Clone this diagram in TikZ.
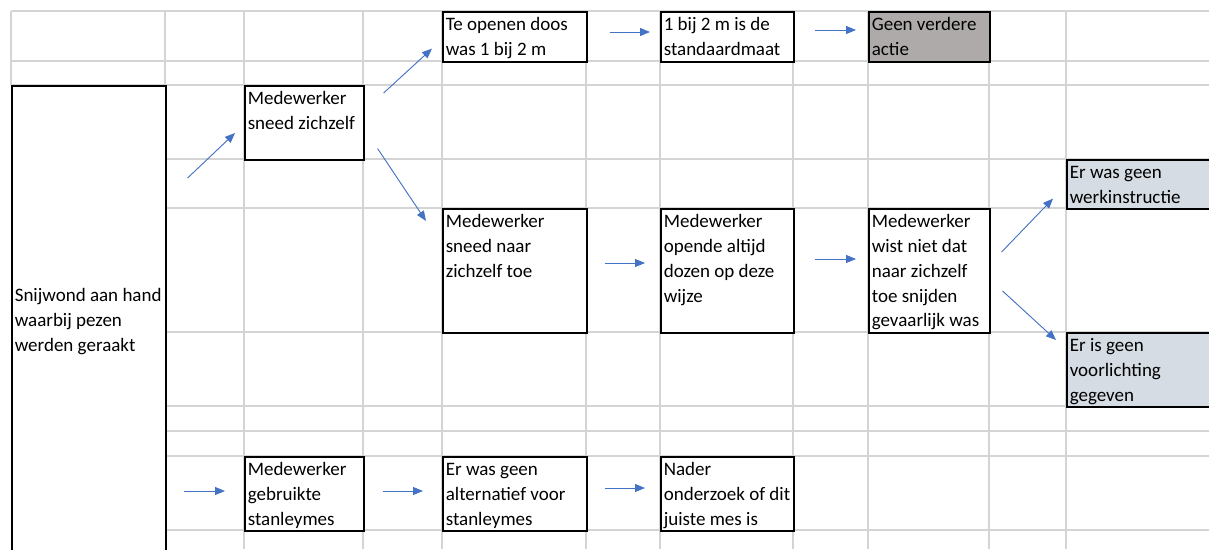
\documentclass[tikz,border=0pt]{standalone}
\usepackage{fontspec}
\setmainfont{Carlito}
\usepackage{xcolor}
\usepackage{tikz}
\usetikzlibrary{arrows.meta, positioning, calc}
\definecolor{gridcolor}{RGB}{212, 212, 212}
\definecolor{arrowcolor}{RGB}{68, 114, 196}
\definecolor{stopcolor}{RGB}{174, 170, 170}
\definecolor{causecolor}{RGB}{214, 220, 228}

\newcommand{\celltext}[4][t]{\parbox[t][#3pt][#1]{#2pt}{\raggedright\leftskip=3pt\relax\vspace*{1.6pt}\strut#4\strut}}

\begin{document}
\begin{tikzpicture}[
    x=1pt, y=-1pt,
    box/.style={draw, line width=1.6pt, fill=white, inner sep=0pt, anchor=north west, font=\fontsize{19}{24.8}\selectfont},
    gridline/.style={draw=gridcolor, line width=1.2pt},
    arrow/.style={-{Triangle[length=10pt, width=8pt]}, draw=arrowcolor, fill=arrowcolor, line width=0.9pt}
]
    \useasboundingbox (0,0) rectangle (1209,549);
    \clip (0,0) rectangle (1209,549);

    % spreadsheet grid
    \foreach \y in {11, 61, 85}
        \draw[gridline] (11,\y) -- (1209,\y);
    \foreach \y in {159, 208, 332, 406, 431, 456, 530}
        \draw[gridline] (165,\y) -- (1209,\y);
    \draw[gridline] (11,11) -- (11,85);
    \foreach \x in {165, 244, 363, 442, 586, 660, 793, 868, 989, 1066}
        \draw[gridline] (\x,11) -- (\x,549);

    \node[box] (snijwond) at (11,85) {\celltext[c]{154}{470}{Snijwond aan hand\\waarbij pezen\\werden geraakt}};
    \node[box] (sneedzelf) at (244,85) {\celltext{119}{74}{Medewerker\\sneed zichzelf}};
    \node[box] (teopenen) at (442,11) {\celltext{144}{50}{Te openen doos\\was 1 bij 2 m}};
    \node[box] (standaard) at (660,11) {\celltext{133}{50}{1 bij 2 m is de\\standaardmaat}};
    \node[box, fill=stopcolor] (geenactie) at (868,11) {\celltext{121}{50}{Geen verdere\\actie}};
    \node[box] (sneednaar) at (442,208) {\celltext{144}{124}{Medewerker\\sneed naar\\zichzelf toe}};
    \node[box] (opende) at (660,208) {\celltext{133}{124}{Medewerker\\opende altijd\\dozen op deze\\wijze}};
    \node[box] (wistniet) at (868,208) {\celltext{121}{124}{Medewerker\\wist niet dat\\naar zichzelf\\toe snijden\\gevaarlijk was}};
    \node[box, fill=causecolor] (werkinstr) at (1066,159) {\celltext{150}{49}{Er was geen\\werkinstructie}};
    \node[box, fill=causecolor] (voorlicht) at (1066,332) {\celltext{150}{74}{Er is geen\\voorlichting\\gegeven}};
    \node[box] (stanley) at (244,456) {\celltext{119}{74}{Medewerker\\gebruikte\\stanleymes}};
    \node[box] (alternatief) at (442,456) {\celltext{144}{74}{Er was geen\\alternatief voor\\stanleymes}};
    \node[box] (nader) at (660,456) {\celltext{133}{74}{Nader\\onderzoek of dit\\juiste mes is}};

    \draw[arrow] ($(snijwond.north east)+(21,93)$) -- ($(sneedzelf.north west)+(-9,48)$);
    \draw[arrow] ($(sneedzelf.north east)+(19,8)$) -- ($(teopenen.south west)+(-10,-14)$);
    \draw[arrow] ($(sneedzelf.south east)+(13,-12)$) -- ($(sneednaar.north west)+(-16,13)$);
    \draw[arrow] ($(teopenen.north east)+(22,21)$) -- ($(standaard.north west)+(-10,21)$);
    \draw[arrow] ($(standaard.north east)+(20,19)$) -- ($(geenactie.north west)+(-12,19)$);
    \draw[arrow] ($(sneednaar.north east)+(17,55)$) -- ($(opende.north west)+(-15,55)$);
    \draw[arrow] ($(opende.north east)+(20,51)$) -- ($(wistniet.north west)+(-12,51)$);
    \draw[arrow] ($(wistniet.north east)+(11,44)$) -- ($(werkinstr.south west)+(-13,-11)$);
    \draw[arrow] ($(wistniet.north east)+(12,83)$) -- ($(voorlicht.north west)+(-10,8)$);
    \draw[arrow] ($(snijwond.north east)+(17,406)$) -- ($(stanley.north west)+(-19,35)$);
    \draw[arrow] ($(stanley.north east)+(18,35)$) -- ($(alternatief.north west)+(-19,35)$);
    \draw[arrow] ($(alternatief.north east)+(17,32)$) -- ($(nader.north west)+(-15,32)$);
\end{tikzpicture}
\end{document}
